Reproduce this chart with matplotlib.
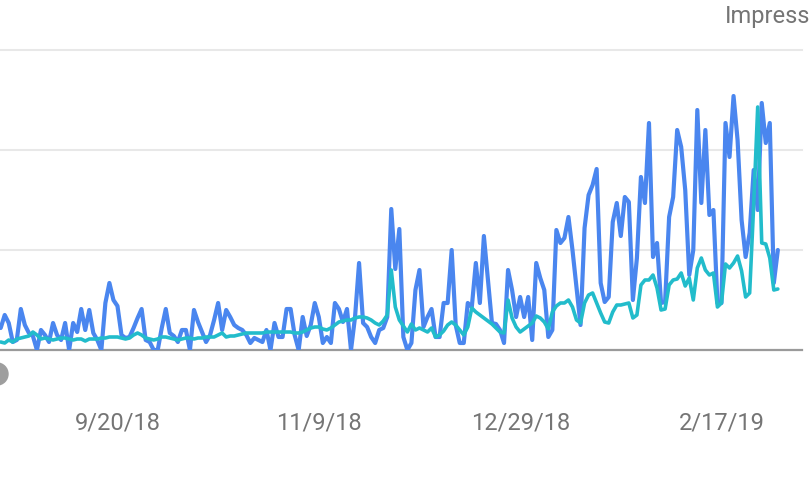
import matplotlib
matplotlib.use("Agg")
import matplotlib.pyplot as plt
import matplotlib.dates as mdates
from matplotlib.patches import Ellipse
import pandas as pd

plt.rcParams['font.family'] = ['Roboto', 'DejaVu Sans']

start_date = "2018-08-22"

clicks = [22, 35, 27, 8, 10, 41, 25, 17, 14, 0,
          20, 15, 8, 27, 15, 10, 27, 0, 27, 18,
          41, 20, 40, 17, 10, 0, 47, 67, 50, 44,
          15, 12, 13, 22, 32, 41, 10, 8, 0, 0,
          22, 41, 17, 14, 8, 20, 20, 0, 40, 28,
          18, 8, 15, 30, 47, 20, 40, 33, 25, 22,
          20, 15, 7, 12, 10, 8, 20, 0, 27, 13,
          13, 41, 41, 15, 0, 33, 14, 25, 47, 33,
          7, 13, 7, 47, 41, 28, 41, 0, 33, 87,
          27, 23, 13, 7, 20, 22, 33, 141, 81, 121,
          13, 0, 7, 60, 80, 23, 33, 41, 13, 13,
          47, 47, 100, 25, 7, 7, 47, 43, 87, 47,
          114, 70, 27, 26, 20, 7, 80, 60, 33, 53,
          33, 53, 10, 87, 72, 60, 13, 20, 120, 107,
          112, 133, 100, 62, 25, 122, 155, 165, 181, 67,
          48, 53, 128, 147, 114, 153, 148, 50, 92, 173,
          147, 227, 93, 107, 47, 48, 133, 153, 220, 203,
          160, 75, 100, 240, 147, 220, 135, 140, 47, 47,
          227, 193, 254, 210, 130, 93, 117, 180, 140, 247,
          207, 227, 67, 100]

impressions = [8, 7, 10, 8, 11, 12, 13, 14, 18, 15,
               11, 12, 11, 10, 11, 12, 12, 11, 10, 11,
               11, 9, 11, 11, 11, 12, 12, 13, 13, 13,
               12, 11, 12, 15, 17, 15, 12, 11, 10, 11,
               13, 13, 12, 11, 10, 11, 12, 12, 11, 12,
               12, 13, 13, 13, 15, 17, 13, 14, 14, 15,
               16, 17, 17, 17, 17, 17, 18, 18, 18, 18,
               18, 18, 18, 17, 17, 18, 20, 22, 23, 23,
               21, 20, 22, 25, 28, 29, 30, 30, 32, 33,
               33, 32, 30, 27, 25, 29, 35, 80, 43, 30,
               24, 18, 26, 20, 22, 20, 18, 22, 13, 15,
               19, 25, 28, 25, 20, 15, 23, 42, 38, 35,
               32, 29, 26, 22, 18, 17, 50, 32, 23, 18,
               21, 24, 27, 34, 32, 28, 21, 38, 44, 47,
               47, 50, 43, 30, 27, 47, 55, 57, 47, 37,
               28, 27, 38, 45, 45, 46, 47, 32, 35, 65,
               70, 70, 75, 62, 40, 41, 65, 70, 71, 77,
               64, 72, 50, 82, 92, 80, 75, 77, 43, 47,
               86, 82, 87, 94, 79, 53, 57, 145, 243, 107,
               106, 92, 60, 61]

tick_dates = ["2018-09-20", "2018-11-09", "2018-12-29", "2019-02-17"]
tick_labels = ["9/20/18", "11/9/18", "12/29/18", "2/17/19"]

dates = pd.date_range(start_date, periods=len(clicks), freq="D")

W, H = 810, 484
fig = plt.figure(figsize=(W / 100, H / 100), dpi=100)
fig.patch.set_facecolor("white")

ax_left, ax_right = 0 / W, 802 / W
ax_bottom, ax_top = 1 - 350 / H, 1 - 50 / H
ax = fig.add_axes([ax_left, ax_bottom, ax_right - ax_left, ax_top - ax_bottom])
ax.set_facecolor("white")

ax.plot(dates, clicks, color="#4a86ef", lw=3.0, solid_joinstyle="round",
        solid_capstyle="round", zorder=3)
ax.plot(dates, impressions, color="#22bccb", lw=2.6, solid_joinstyle="round",
        solid_capstyle="round", zorder=4)

x0 = mdates.date2num(pd.Timestamp(start_date))
ax.set_xlim(x0 - 0.17, x0 + 199.0)
ax.set_ylim(0, 300)

for gy in [100, 200, 300]:
    ax.axhline(gy, color="#e8e8e8", lw=1.5, zorder=1, clip_on=False)
ax.axhline(0, color="#9a9a9a", lw=1.6, zorder=2, clip_on=False)

for s in ax.spines.values():
    s.set_visible(False)
ax.set_yticks([])
ax.set_xticks([mdates.date2num(pd.Timestamp(d)) for d in tick_dates])
ax.set_xticklabels(tick_labels)
ax.tick_params(axis="x", length=0, pad=44, labelsize=17, labelcolor="#757575")

fig.text(725 / W, 1 - 16 / H, "Impress", ha="left", va="center",
         fontsize=17, color="#757575")

fig.add_artist(Ellipse((-3 / W, 1 - 374 / H), 22 / W, 22 / H,
                       transform=fig.transFigure, color="#9e9e9e", zorder=5))

fig.savefig("out.png", dpi=100, facecolor="white")
